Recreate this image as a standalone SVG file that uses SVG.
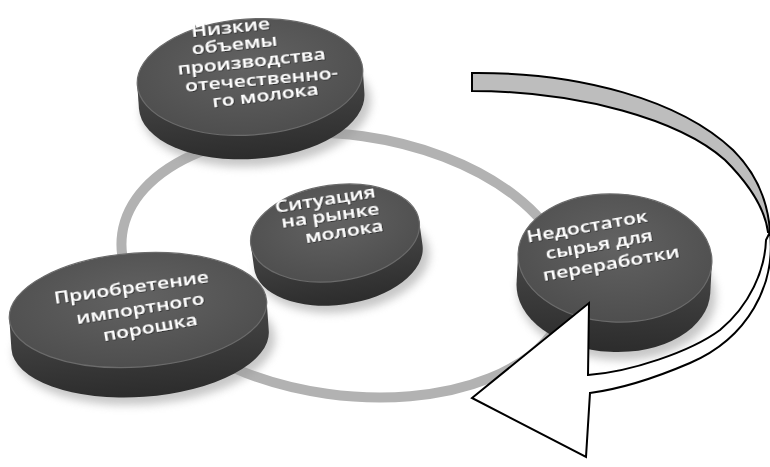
<svg xmlns="http://www.w3.org/2000/svg" width="770" height="467" viewBox="0 0 770 467">
<defs>
<radialGradient id="faceG" cx="50%" cy="40%" r="60%">
<stop offset="0" stop-color="#626262"/>
<stop offset="1" stop-color="#4e4e4e"/>
</radialGradient>
<linearGradient id="sideG" x1="0" y1="0" x2="0" y2="1">
<stop offset="0" stop-color="#474747"/>
<stop offset="1" stop-color="#2c2c2c"/>
</linearGradient>
<filter id="blur" x="-20%" y="-20%" width="140%" height="140%">
<feGaussianBlur stdDeviation="4"/>
</filter>
<filter id="tsh" x="-10%" y="-30%" width="120%" height="160%">
<feDropShadow dx="0.8" dy="1" stdDeviation="0.7" flood-color="#1a1a1a" flood-opacity="0.9"/>
</filter>
</defs>
<style>
.face{fill:url(#faceG);stroke:#6b6b6b;stroke-width:1.2}
.side{fill:url(#sideG)}
.shadow{fill:#9a9a9a;opacity:0.55;filter:url(#blur)}
.lbl{font-family:"Open Sans","DejaVu Sans",sans-serif;font-weight:600;font-size:21px;fill:#ffffff;text-anchor:middle;filter:url(#tsh)}
.ring{fill:none;stroke:#b2b2b2;stroke-width:10}
.arr{stroke:#000;stroke-width:2;stroke-linejoin:miter}
</style>
<rect width="770" height="467" fill="#ffffff"/>

<g id="connectors">
<ellipse class="ring" cx="345" cy="265" rx="225" ry="130" transform="rotate(8 345 265)"/>
</g>

<g id="node-top">
<g transform="translate(250 77) rotate(-4)">
<ellipse class="shadow" cx="4" cy="30" rx="115" ry="60"/>
<path class="side" d="M-113,0 L-113,24 A113,58 0 0 0 113,24 L113,0 Z"/>
<ellipse class="face" cx="0" cy="0" rx="113" ry="58"/>
</g>
<text class="lbl" transform="translate(231 33) rotate(-6) scale(1 0.75)">Низкие</text>
<text class="lbl" transform="translate(235 50) rotate(-6) scale(1 0.75)">объемы</text>
<text class="lbl" transform="translate(252 67) rotate(-6) scale(1 0.75)">производства</text>
<text class="lbl" transform="translate(262 85) rotate(-5) scale(1 0.75)">отечественно-</text>
<text class="lbl" transform="translate(266 101) rotate(-7) scale(1 0.75)">го молока</text>
</g>

<g id="node-center">
<g transform="translate(335 233) rotate(-8)">
<ellipse class="shadow" cx="4" cy="30" rx="87" ry="50"/>
<path class="side" d="M-85,0 L-85,24 A85,48 0 0 0 85,24 L85,0 Z"/>
<ellipse class="face" cx="0" cy="0" rx="85" ry="48"/>
</g>
<text class="lbl" transform="translate(326 205) rotate(-9) scale(1 0.75)">Ситуация</text>
<text class="lbl" transform="translate(331 221) rotate(-8) scale(1 0.75)">на рынке</text>
<text class="lbl" transform="translate(345 237) rotate(-9) scale(1 0.75)">молока</text>
</g>

<g id="node-left">
<g transform="translate(138 310) rotate(-4)">
<ellipse class="shadow" cx="4" cy="36" rx="131" ry="59"/>
<path class="side" d="M-129,0 L-129,30 A129,57 0 0 0 129,30 L129,0 Z"/>
<ellipse class="face" cx="0" cy="0" rx="129" ry="57"/>
</g>
<text class="lbl" transform="translate(132 293) rotate(-8) scale(1 0.75)">Приобретение</text>
<text class="lbl" transform="translate(141 314) rotate(-9) scale(1 0.75)">импортного</text>
<text class="lbl" transform="translate(151 333) rotate(-10) scale(1 0.75)">порошка</text>
</g>

<g id="node-right">
<g transform="translate(615 258) rotate(3)">
<ellipse class="shadow" cx="4" cy="36" rx="99" ry="66"/>
<path class="side" d="M-97,0 L-97,30 A97,64 0 0 0 97,30 L97,0 Z"/>
<ellipse class="face" cx="0" cy="0" rx="97" ry="64"/>
</g>
<text class="lbl" transform="translate(588 232) rotate(-10) scale(1 0.75)">Недостаток</text>
<text class="lbl" transform="translate(600 250) rotate(-10) scale(1 0.75)">сырья для</text>
<text class="lbl" transform="translate(612 269) rotate(-10) scale(1 0.75)">переработки</text>
</g>

<g id="cycle-arrow">
<path class="arr" fill="#ffffff" d="M770,232 C776,285 748,338 690,363 C655,378 620,389 590,393 L586,457 L472,398 L589,303 L588,375 C630,372 690,352 720,330 C750,305 765,270 766,240 Z"/>
<path class="arr" fill="#bdbdbd" d="M472,73 C580,72 680,100 733,150 C755,172 768,200 770,232 L768,232 C765,210 750,185 725,160 C680,120 580,91 472,91 Z"/>
</g>
</svg>
